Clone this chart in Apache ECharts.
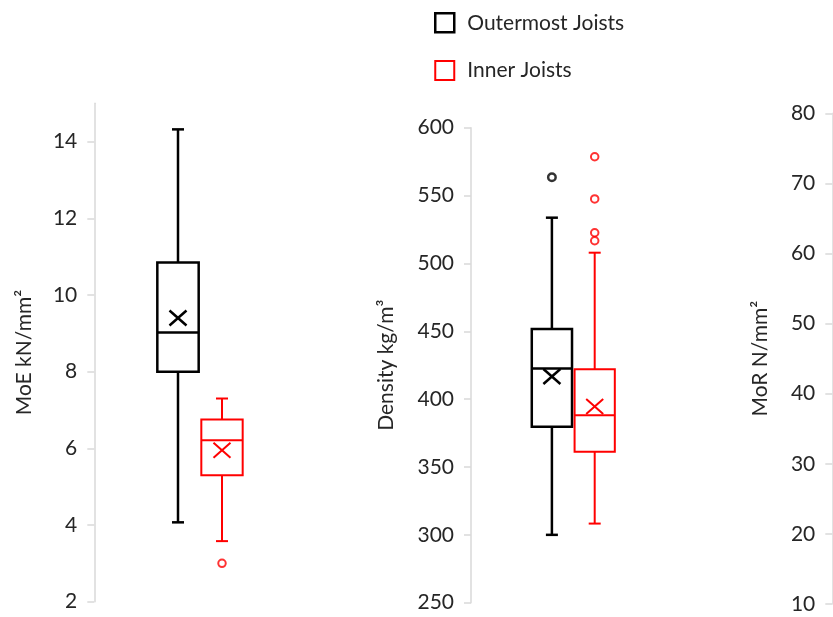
<!DOCTYPE html>
<html>
<head>
<meta charset="utf-8">
<script src="https://cdn.jsdelivr.net/npm/echarts@6/dist/echarts.min.js"></script>
<style>
  html, body { margin: 0; padding: 0; background: #fff; }
  #chart { width: 833px; height: 617px; }
</style>
</head>
<body>
<div id="chart"></div>
<script>
// Joist groups (one category per box in every panel)
const groups = ['Outermost Joists', 'Inner Joists'];

// Box statistics: [min, Q1, median, Q3, max]
const moeOuter = [4.07, 8.0, 9.02, 10.85, 14.32];
const moeInner = [3.58, 5.30, 6.21, 6.75, 7.30];
const densityOuter = [300, 379.6, 422.5, 451.7, 533.7];
const densityInner = [308.3, 361.2, 388.2, 422.1, 507.9];

// Means (drawn as ×)
const moeMeans = [9.40, 5.95];
const densityMeans = [416.7, 394.6];

// Outliers
const moeOuterOutliers = [];
const moeInnerOutliers = [3.0];
const densityOuterOutliers = [563.5];
const densityInnerOutliers = [578.6, 547.5, 522.6, 516.7];

// Axis tick values
const moeTicks = [2, 4, 6, 8, 10, 12, 14];
const densityTicks = [250, 300, 350, 400, 450, 500, 550, 600];
const morTicks = [10, 20, 30, 40, 50, 60, 70, 80];

const FONT = 'Lato';
const TEXT = '#262626';
const COLORS = ['#000000', '#ff0000'];
const WIDTHS = [2.5, 2];

function renderBox(params, api) {
  const cat = api.value(0);
  const pMin = api.coord([cat, api.value(1)]);
  const pQ1 = api.coord([cat, api.value(2)]);
  const pMed = api.coord([cat, api.value(3)]);
  const pQ3 = api.coord([cat, api.value(4)]);
  const pMax = api.coord([cat, api.value(5)]);
  const pMean = api.coord([cat, api.value(6)]);
  const x = pMed[0];
  const hw = api.size([1, 0])[0] * 0.47;
  const cap = 6;
  const mx = 8.5, my = 7.5;
  const color = api.visual('color');
  const lw = api.value(7);
  const st = { stroke: color, lineWidth: lw, fill: null };
  const line = (x1, y1, x2, y2) => ({ type: 'line', shape: { x1, y1, x2, y2 }, style: st });
  return {
    type: 'group',
    children: [
      { type: 'rect', shape: { x: x - hw, y: pQ3[1], width: 2 * hw, height: pQ1[1] - pQ3[1] }, style: { stroke: color, lineWidth: lw, fill: 'rgba(0,0,0,0)' } },
      line(x - hw, pMed[1], x + hw, pMed[1]),
      line(x, pQ3[1], x, pMax[1]),
      line(x, pQ1[1], x, pMin[1]),
      line(x - cap, pMax[1], x + cap, pMax[1]),
      line(x - cap, pMin[1], x + cap, pMin[1]),
      line(pMean[0] - mx, pMean[1] - my, pMean[0] + mx, pMean[1] + my),
      line(pMean[0] - mx, pMean[1] + my, pMean[0] + mx, pMean[1] - my)
    ]
  };
}

function boxSeries(gi, idx, stats, mean) {
  return {
    name: groups[idx],
    type: 'custom',
    xAxisIndex: gi, yAxisIndex: gi,
    itemStyle: { color: COLORS[idx] },
    renderItem: renderBox,
    encode: { x: 0, y: [1, 2, 3, 4, 5] },
    data: [[idx, ...stats, mean, WIDTHS[idx]]],
    z: 3
  };
}

function outlierSeries(gi, idx, values) {
  return {
    name: groups[idx],
    type: 'scatter',
    xAxisIndex: gi, yAxisIndex: gi,
    symbol: 'circle',
    symbolSize: 7.5,
    itemStyle: { color: '#ffffff', borderColor: COLORS[idx], borderWidth: WIDTHS[idx] },
    data: values.map(v => [idx, v]),
    z: 4
  };
}

function valueAxis(gi, name, min, max, interval, ticks, offset, nameGap) {
  return {
    type: 'value', gridIndex: gi, min, max, interval, offset,
    name, nameLocation: 'middle', nameGap,
    nameTextStyle: { fontFamily: FONT, fontSize: 21, color: TEXT },
    axisLine: { show: true, lineStyle: { color: '#d9d9d9', width: 1.5 } },
    axisTick: { show: true, length: 7, lineStyle: { color: '#d9d9d9', width: 1.5 }, customValues: ticks },
    axisLabel: { fontFamily: FONT, fontSize: 21, color: TEXT, margin: 17, customValues: ticks },
    splitLine: { show: false }
  };
}

function catAxis(gi) {
  return {
    type: 'category', gridIndex: gi, data: groups,
    show: false
  };
}

const option = {
  backgroundColor: '#ffffff',
  animation: false,
  textStyle: { fontFamily: FONT },
  legend: {
    orient: 'vertical',
    left: 434, top: 12,
    padding: 0,
    itemWidth: 19, itemHeight: 19, itemGap: 26.5,
    textStyle: { fontFamily: FONT, fontSize: 21, color: TEXT, padding: [0, 0, 0, 8] },
    data: [
      { name: groups[0], icon: 'rect', itemStyle: { color: '#ffffff', borderColor: COLORS[0], borderWidth: 2.5 } },
      { name: groups[1], icon: 'rect', itemStyle: { color: '#ffffff', borderColor: COLORS[1], borderWidth: 2 } }
    ]
  },
  grid: [
    { left: 156, top: 103.3, width: 88, height: 498.4 },
    { left: 530.5, top: 127.7, width: 85.6, height: 475 },
    { left: 832.3, top: 113.3, width: 40, height: 490.7 }
  ],
  xAxis: [catAxis(0), catAxis(1), catAxis(2)],
  yAxis: [
    valueAxis(0, 'MoE kN/mm²', 2, 15, 2, moeTicks, 61.7, 60),
    valueAxis(1, 'Density kg/m³', 250, 600, 50, densityTicks, 59.5, 74),
    valueAxis(2, 'MoR N/mm²', 10, 80, 10, morTicks, 0, 62)
  ],
  series: [
    boxSeries(0, 0, moeOuter, moeMeans[0]),
    boxSeries(0, 1, moeInner, moeMeans[1]),
    outlierSeries(0, 0, moeOuterOutliers),
    outlierSeries(0, 1, moeInnerOutliers),
    boxSeries(1, 0, densityOuter, densityMeans[0]),
    boxSeries(1, 1, densityInner, densityMeans[1]),
    outlierSeries(1, 0, densityOuterOutliers),
    outlierSeries(1, 1, densityInnerOutliers)
  ]
};

const chart = echarts.init(document.getElementById('chart'), null, { renderer: 'canvas' });
chart.setOption(option);
</script>
</body>
</html>
